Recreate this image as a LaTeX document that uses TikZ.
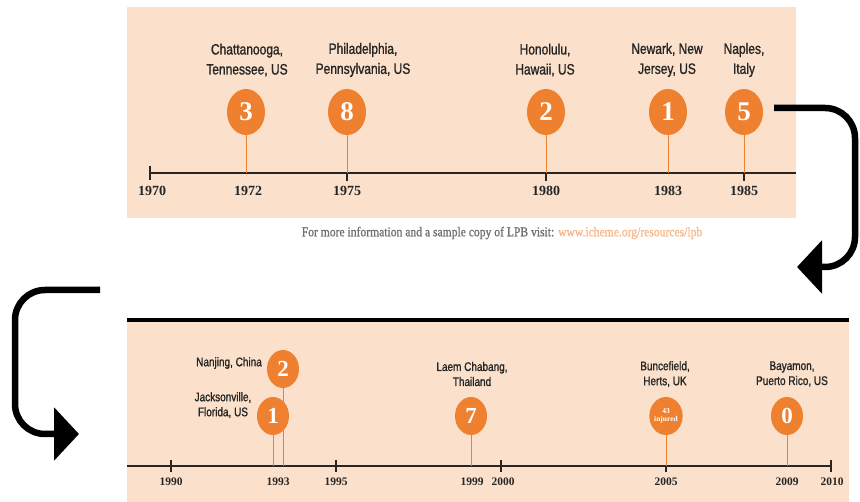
\documentclass[tikz,border=0pt]{standalone}
\usepackage{fontspec}
\setmainfont{Liberation Serif}
\newfontfamily\condsans[FakeStretch=0.8,FakeBold=1.2]{Liberation Sans}
\newfontfamily\condserif[FakeStretch=0.86,FakeBold=1]{Liberation Serif}
\usetikzlibrary{arrows.meta,shapes.geometric}
\definecolor{peach}{HTML}{FBE1CB}
\definecolor{orng}{HTML}{EE8030}
\definecolor{lightorng}{HTML}{F6B788}
\definecolor{txt}{HTML}{262626}
\definecolor{foot}{HTML}{707070}
\tikzset{
  bubble/.style={ellipse, fill=orng, text=white, inner sep=0pt, minimum width=38pt, minimum height=46pt, font=\bfseries\fontsize{27}{27}\selectfont},
  sbubble/.style={bubble, minimum width=32pt, minimum height=38pt, font=\bfseries\fontsize{23}{23}\selectfont},
  stem/.style={draw=orng, line width=1pt},
  axisline/.style={draw=txt, line width=1.2pt},
  tickline/.style={draw=txt, line width=1.1pt},
  place/.style={text=txt, align=center, font=\condsans\fontsize{15}{20}\selectfont, inner sep=0pt},
  splace/.style={text=txt, align=center, font=\condsans\fontsize{12.5}{15}\selectfont, inner sep=0pt},
  year/.style={text=txt, font=\bfseries\fontsize{14}{14}\selectfont, inner sep=0pt},
  syear/.style={text=txt, font=\bfseries\fontsize{11.5}{11.5}\selectfont, inner sep=0pt},
  bigarrow/.style={draw=black, line width=6.5pt, rounded corners=30pt, -{Triangle[length=25pt,width=52pt]}}
}
\begin{document}
\begin{tikzpicture}[x=1pt,y=-1pt]
\useasboundingbox (0,0) rectangle (860,502);
% panels
\fill[peach] (127,7) rectangle (796,218);
\fill[peach] (127,320) rectangle (849,502);
\draw[black, line width=4pt] (127,320) -- (849,320);

% ---------- top timeline ----------
\coordinate (ta0) at (150,173);
\coordinate (ta1) at (796,173);
\draw[axisline] (ta0) -- (ta1);
\draw[tickline] (150,166) -- (150,180);
\foreach \x in {347,546,744} \draw[tickline] (\x,173) -- (\x,181);

\coordinate (t1972) at (246,173);
\coordinate (t1975) at (347,173);
\coordinate (t1980) at (546,173);
\coordinate (t1983) at (668,173);
\coordinate (t1985) at (744,173);

\node[bubble] (b1972) at (246,112) {3};
\node[bubble] (b1975) at (347,112) {8};
\node[bubble] (b1980) at (546,112) {2};
\node[bubble] (b1983) at (668,112) {1};
\node[bubble] (b1985) at (744,112) {5};
\draw[stem] (b1972.south) -- (t1972);
\draw[stem] (b1975.south) -- (t1975);
\draw[stem] (b1980.south) -- (t1980);
\draw[stem] (b1983.south) -- (t1983);
\draw[stem] (b1985.south) -- (t1985);

\node[place] (l1972) at (247,60) {Chattanooga,\\Tennessee, US};
\node[place] (l1975) at (363,60) {Philadelphia,\\Pennsylvania, US};
\node[place] (l1980) at (545,60) {Honolulu,\\Hawaii, US};
\node[place] (l1983) at (667,60) {Newark, New\\Jersey, US};
\node[place] (l1985) at (744,60) {Naples,\\Italy};

\node[year] (y1970) at (152,191) {1970};
\node[year] (y1972) at (248,191) {1972};
\node[year] (y1975) at (347,191) {1975};
\node[year] (y1980) at (546,191) {1980};
\node[year] (y1983) at (668,191) {1983};
\node[year] (y1985) at (744,191) {1985};

% footer
\node[inner sep=0pt, font=\condserif\fontsize{13.5}{13.5}\selectfont] (foot) at (502,233)
  {\textcolor{foot}{For more information and a sample copy of LPB visit:} \textcolor{lightorng}{www.icheme.org/resources/lpb}};

% ---------- bottom timeline ----------
\coordinate (ba0) at (127,466);
\coordinate (ba1) at (831,466);
\draw[axisline] (ba0) -- (ba1);
\foreach \x in {171,336,501,831} \draw[tickline] (\x,460) -- (\x,472);
\draw[tickline] (666,466) -- (666,472);

\coordinate (t1993a) at (273,466);
\coordinate (t1993b) at (283,466);
\coordinate (t1999) at (471,466);
\coordinate (t2005) at (666,466);
\coordinate (t2009) at (787,466);

\node[sbubble] (b1993b) at (283,369) {2};
\draw[stem] (b1993b.south) -- (t1993b);
\node[sbubble] (b1993a) at (273,416) {1};
\node[sbubble] (b1999) at (471,416) {7};
\node[sbubble, font=\bfseries\fontsize{7.5}{7.5}\selectfont, align=center] (b2005) at (666,416) {43\\injured};
\node[sbubble] (b2009) at (787,416) {0};
\draw[stem] (b1993a.south) -- (t1993a);
\draw[stem] (b1999.south) -- (t1999);
\draw[stem] (b2005.south) -- (t2005);
\draw[stem] (b2009.south) -- (t2009);

\node[splace, anchor=east] (l1993b) at (262,363) {Nanjing, China};
\node[splace] (l1993a) at (223,405) {Jacksonville,\\Florida, US};
\node[splace] (l1999) at (472,374) {Laem Chabang,\\Thailand};
\node[splace] (l2005) at (665,374) {Buncefield,\\Herts, UK};
\node[splace] (l2009) at (792,374) {Bayamon,\\Puerto Rico, US};

\node[syear] (y1990) at (171,482) {1990};
\node[syear] (y1993) at (278,482) {1993};
\node[syear] (y1995) at (336,482) {1995};
\node[syear] (y1999) at (472,482) {1999};
\node[syear] (y2000) at (503,482) {2000};
\node[syear] (y2005) at (666,482) {2005};
\node[syear] (y2009) at (787,482) {2009};
\node[syear] (y2010) at (832,482) {2010};

% ---------- connecting arrows ----------
\coordinate (ra0) at (774,108);
\coordinate (ra1) at (797,267);
\draw[bigarrow] (ra0) -- (855,108) -- (855,267) -- (ra1);
\coordinate (la0) at (100,290);
\coordinate (la1) at (79,434);
\draw[bigarrow] (la0) -- (15,290) -- (15,434) -- (la1);
\end{tikzpicture}
\end{document}
